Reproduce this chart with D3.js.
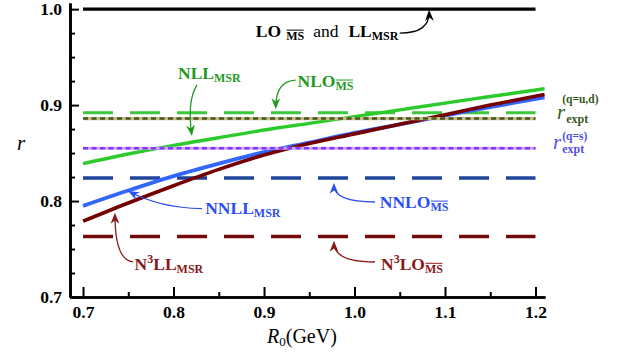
<!DOCTYPE html>
<html>
<head>
<meta charset="utf-8">
<script src="https://cdn.jsdelivr.net/npm/d3@7/dist/d3.min.js"></script>
<style>
  html, body { margin: 0; padding: 0; background: #fff; }
  svg { display: block; }
</style>
</head>
<body>
<svg id="chart" width="623" height="355"></svg>
<script>
// ---------------- data ----------------
const R0 = [0.70, 0.75, 0.80, 0.85, 0.90, 0.95, 1.00, 1.05, 1.10, 1.15, 1.21];
const nllMSR  = [0.839, 0.849, 0.858, 0.866, 0.874, 0.881, 0.888, 0.895, 0.902, 0.909, 0.917];
const nnllMSR = [0.795, 0.811, 0.826, 0.839, 0.851, 0.861, 0.871, 0.880, 0.889, 0.898, 0.908];
const n3llMSR = [0.779, 0.798, 0.816, 0.833, 0.848, 0.860, 0.870, 0.880, 0.890, 0.900, 0.911];

const loMS   = 1.000;
const nloMS  = 0.892;
const nnloMS = 0.824;
const n3loMS = 0.763;
const rExptUD = 0.886;
const rExptS  = 0.855;
const flatRange = [0.70, 1.20];

const xTicks = [0.7, 0.8, 0.9, 1.0, 1.1, 1.2];
const xMinorTicks = [0.75, 0.85, 0.95, 1.05, 1.15];
const yTicks = [0.7, 0.8, 0.9, 1.0];
const yMinorTicks = [0.725, 0.75, 0.775, 0.825, 0.85, 0.875, 0.925, 0.95, 0.975];

// ---------------- setup ----------------
const svg = d3.select("#chart");
const x = d3.scaleLinear().domain([0.6856, 1.2105]).range([70, 545]);
const y = d3.scaleLinear().domain([0.7, 1.0064]).range([297, 3]);

const SERIF = "'Liberation Serif', 'Times New Roman', serif";
const C = {
  green: "#2ccb2c", greenDash: "#3cc83c", greenText: "#1f9a1f",
  blue: "#3366ff", blueDash: "#1f449a", blueText: "#2d4ff0",
  red: "#740000", redDash: "#720a0a", redText: "#8a1818",
  olive: "#44581c", oliveHalo: "#c8b88a", oliveText: "#365a24",
  purple: "#8a33ff", purpleHalo: "#c8a8ff", purpleText: "#5150e6"
};

// ---------------- axes ----------------
const yAxis = d3.axisLeft(y).tickValues(yTicks).tickFormat(d3.format(".1f"))
  .tickSizeInner(-9).tickSizeOuter(0).tickPadding(8);
const yMinor = d3.axisLeft(y).tickValues(yMinorTicks).tickFormat("")
  .tickSizeInner(-5).tickSizeOuter(0);
const xAxis = d3.axisBottom(x).tickValues(xTicks).tickFormat(d3.format(".1f"))
  .tickSizeInner(-10).tickSizeOuter(0).tickPadding(9);
const xMinor = d3.axisBottom(x).tickValues(xMinorTicks).tickFormat("")
  .tickSizeInner(-5).tickSizeOuter(0);

function styleAxis(g) {
  g.select(".domain").attr("stroke", "#000").attr("stroke-width", 2.6);
  g.selectAll(".tick line").attr("stroke", "#000").attr("stroke-width", 2);
  g.selectAll(".tick text").attr("fill", "#000")
    .style("font-family", SERIF).style("font-weight", "bold").style("font-size", "17.5px");
}
svg.append("g").attr("transform", "translate(70,0)").call(yMinor).call(styleAxis);
svg.append("g").attr("transform", "translate(70,0)").call(yAxis).call(styleAxis);
svg.append("g").attr("transform", "translate(0,297)").call(xMinor).call(styleAxis);
svg.append("g").attr("transform", "translate(0,297)").call(xAxis).call(styleAxis);

// ---------------- rich text helper ----------------
const MAIN = 17.5;
function rich(px, py, parts, color) {
  const g = svg.append("g");
  let cx = px;
  parts.forEach(p => {
    const sz = p.size || MAIN;
    const t = g.append("text")
      .attr("x", cx).attr("y", py + (p.dy || 0))
      .attr("fill", color)
      .style("font-family", p.family || SERIF)
      .style("font-weight", p.weight || "bold")
      .style("font-style", p.style || "normal")
      .style("font-size", sz + "px")
      .text(p.t);
    const w = t.node().getComputedTextLength();
    if (p.over) {
      const oy = py + (p.dy || 0) - sz * 0.82;
      g.append("line").attr("x1", cx + 0.5).attr("x2", cx + w - 0.5)
        .attr("y1", oy).attr("y2", oy)
        .attr("stroke", color).attr("stroke-width", 1);
    }
    cx += w + (p.after || 0);
  });
  return g;
}

// ---------------- flat reference lines ----------------
function flat(val, color, width, dash) {
  svg.append("line")
    .attr("x1", x(flatRange[0])).attr("x2", x(flatRange[1]))
    .attr("y1", y(val)).attr("y2", y(val))
    .attr("stroke", color).attr("stroke-width", width)
    .attr("stroke-dasharray", dash || null);
}
flat(loMS, "#000", 3.2);
flat(nloMS, C.greenDash, 3.2, "30,17");
flat(nnloMS, C.blueDash, 3.4, "30,17");
flat(n3loMS, C.redDash, 3.6, "30,17");

// ---------------- curves ----------------
const line = d3.line().x((d, i) => x(R0[i])).y(d => y(d)).curve(d3.curveMonotoneX);
svg.append("path").datum(nllMSR).attr("d", line)
  .attr("fill", "none").attr("stroke", C.green).attr("stroke-width", 3.4);
svg.append("path").datum(nnllMSR).attr("d", line)
  .attr("fill", "none").attr("stroke", C.blue).attr("stroke-width", 3.8);
svg.append("path").datum(n3llMSR).attr("d", line)
  .attr("fill", "none").attr("stroke", C.red).attr("stroke-width", 3.6);

// dotted experimental lines (on top)
flat(rExptUD, C.oliveHalo, 3.2);
flat(rExptUD, C.olive, 2.6, "5,3.5");
flat(rExptS, C.purpleHalo, 3.2);
flat(rExptS, C.purple, 2.6, "5,3.5");

// ---------------- arrows ----------------
const defs = svg.append("defs");
function marker(id, color) {
  defs.append("marker").attr("id", id)
    .attr("viewBox", "0 0 10 10").attr("refX", 8).attr("refY", 5)
    .attr("markerWidth", 11).attr("markerHeight", 11)
    .attr("markerUnits", "userSpaceOnUse")
    .attr("orient", "auto")
    .append("path").attr("d", "M0,1 L10,5 L0,9 L3,5 Z").attr("fill", color);
}
marker("mk", "#000"); marker("mg", C.greenText); marker("mb", C.blueText); marker("mr", C.redText);

function arrow(from, ctrl, to, color, mid) {
  const p = d3.path();
  p.moveTo(x(from[0]), y(from[1]));
  p.quadraticCurveTo(x(ctrl[0]), y(ctrl[1]), x(to[0]), y(to[1]));
  svg.append("path").attr("d", p.toString())
    .attr("fill", "none").attr("stroke", color).attr("stroke-width", 1.3)
    .attr("marker-end", `url(#${mid})`);
}

// ---------------- annotations ----------------
const SUB = 12;
// LO and LL
rich(x(0.891), y(0.971), [
  {t: "LO", after: 5},
  {t: "MS", size: SUB, dy: 3, over: true, after: 9},
  {t: "and", weight: "normal", after: 10},
  {t: "LL", after: 0},
  {t: "MSR", size: SUB, dy: 3}
], "#000");
arrow([1.050, 0.975], [1.083, 0.975], [1.0825, 0.997], "#000", "mk");

// NLL_MSR
rich(x(0.805), y(0.927), [{t: "NLL"}, {t: "MSR", size: SUB, dy: 3}], C.greenText);
arrow([0.826, 0.921], [0.815, 0.905], [0.820, 0.870], C.greenText, "mg");

// NLO_MS
rich(x(0.937), y(0.919), [{t: "NLO"}, {t: "MS", size: SUB, dy: 3, over: true}], C.greenText);
arrow([0.935, 0.926], [0.913, 0.925], [0.913, 0.898], C.greenText, "mg");

// NNLL_MSR
rich(x(0.835), y(0.7865), [{t: "NNLL"}, {t: "MSR", size: SUB, dy: 3}], C.blueText);
arrow([0.8315, 0.792], [0.785, 0.793], [0.752, 0.8094], C.blueText, "mb");

// N3LL_MSR
rich(x(0.757), y(0.728), [{t: "N"}, {t: "3", size: SUB, dy: -7}, {t: "LL"}, {t: "MSR", size: SUB, dy: 3}], C.redText);
arrow([0.7552, 0.7365], [0.7353, 0.7386], [0.7353, 0.7855], C.redText, "mr");

// NNLO_MS
rich(x(1.028), y(0.7928), [{t: "NNLO"}, {t: "MS", size: SUB, dy: 3, over: true}], C.blueText);
arrow([1.0227, 0.799], [0.9773, 0.799], [0.9773, 0.8167], C.blueText, "mb");

// N3LO_MS
rich(x(1.0293), y(0.728), [{t: "N"}, {t: "3", size: SUB, dy: -7}, {t: "LO"}, {t: "MS", size: SUB, dy: 3, over: true}], C.redText);
arrow([1.0227, 0.7365], [0.9773, 0.7365], [0.9773, 0.7563], C.redText, "mr");

// r_expt labels
rich(x(1.2238), y(0.8860), [
  {t: "r", weight: "normal", style: "italic", size: 21, after: 1},
  {t: "expt", size: 12, dy: 4}
], C.oliveText);
rich(x(1.2295), y(0.9018), [{t: "(q=u,d)", size: 11.5}], C.oliveText);

rich(x(1.2194), y(0.8540), [
  {t: "r", weight: "normal", style: "italic", size: 21, after: 1},
  {t: "expt", size: 12, dy: 4}
], C.purpleText);
rich(x(1.2295), y(0.8635), [{t: "(q=s)", size: 11.5}], C.purpleText);

// axis titles
rich(17, 150, [{t: "r", weight: "normal", style: "italic", size: 21}], "#000");
rich(267, 343, [
  {t: "R", weight: "normal", style: "italic", size: 20},
  {t: "0", weight: "normal", size: 13, dy: 3},
  {t: "(GeV)", weight: "normal", size: 20}
], "#000");
</script>
</body>
</html>
